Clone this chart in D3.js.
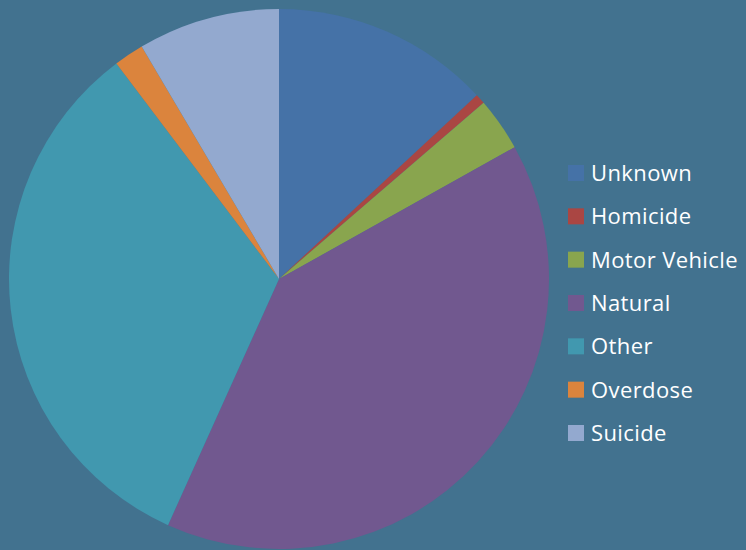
<!DOCTYPE html>
<html>
<head>
<meta charset="utf-8">
<script src="https://cdn.jsdelivr.net/npm/d3@7"></script>
<style>
  html, body { margin: 0; padding: 0; background: #42728f; }
  svg { display: block; }
</style>
</head>
<body>
<svg id="chart" width="746" height="550"></svg>
<script>
// Manner of death shares (percent)
const categories = ["Unknown", "Homicide", "Motor Vehicle", "Natural", "Other", "Overdose", "Suicide"];
const values = [13.1, 0.6, 3.2, 39.9, 33.0, 1.8, 8.5];
const colors = ["#4572a7", "#aa4643", "#89a54e", "#71588f", "#4198af", "#db843d", "#93a9cf"];

const svg = d3.select("#chart");
const cx = 279, cy = 279, radius = 270;

const data = categories.map((c, i) => ({ name: c, value: values[i], color: colors[i] }));

const pie = d3.pie().value(d => d.value).sort(null);
const arc = d3.arc().innerRadius(0).outerRadius(radius);

svg.append("g")
  .attr("transform", `translate(${cx},${cy})`)
  .selectAll("path")
  .data(pie(data))
  .join("path")
  .attr("d", arc)
  .attr("fill", d => d.data.color);

// Legend
const legendY = d3.scalePoint().domain(categories).range([173, 433]);
const legend = svg.append("g")
  .selectAll("g")
  .data(data)
  .join("g")
  .attr("transform", d => `translate(568,${legendY(d.name)})`);

legend.append("rect")
  .attr("x", 0).attr("y", -8)
  .attr("width", 16).attr("height", 16)
  .attr("fill", d => d.color);

legend.append("text")
  .attr("x", 23).attr("y", 0)
  .attr("dy", "0.36em")
  .attr("fill", "#ffffff")
  .style("font-family", "'Open Sans', sans-serif")
  .style("font-size", "22px")
  .style("letter-spacing", "0.4px")
  .text(d => d.name);
</script>
</body>
</html>
